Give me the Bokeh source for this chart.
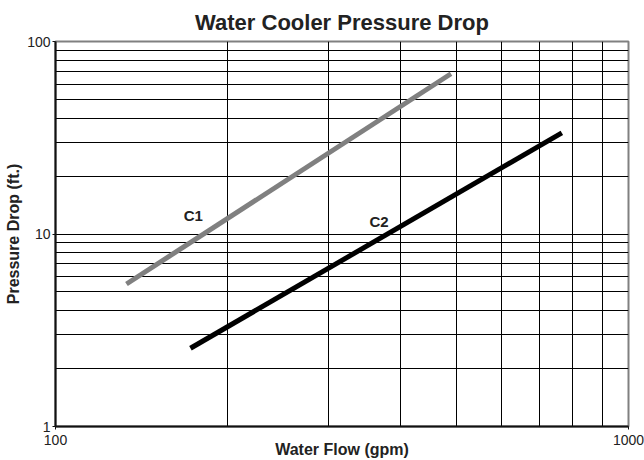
from bokeh.plotting import figure
from bokeh.models import FixedTicker, ColumnDataSource
from bokeh.core.properties import value
from bokeh.embed import file_html
from bokeh.resources import INLINE

# Data (log-log straight lines)
c1_flow = [133, 490]
c1_drop = [5.5, 68]
c2_flow = [172, 765]
c2_drop = [2.55, 33.5]
label_names = ["C1", "C2"]
label_x = [174, 367]
label_y = [12.5, 11.6]
x_major = [100, 1000]
x_minor = [200, 300, 400, 500, 600, 700, 800, 900]
y_major = [1, 10, 100]
y_minor = [2, 3, 4, 5, 6, 7, 8, 9, 20, 30, 40, 50, 60, 70, 80, 90]

FONT = "Liberation Sans"
TXT = "#222222"

p = figure(frame_width=573, frame_height=385, x_axis_type="log", y_axis_type="log",
           x_range=(100, 1000), y_range=(1, 100),
           output_backend="svg", toolbar_location=None,
           min_border_left=55, min_border_right=16, min_border_top=41, min_border_bottom=34)

p.title.text = "Water Cooler Pressure Drop"
p.title.align = "center"
p.title.text_font = FONT
p.title.text_font_size = "22px"
p.title.text_font_style = "bold"
p.title.text_color = TXT
p.title.standoff = 14

p.xaxis.ticker = FixedTicker(ticks=x_major, minor_ticks=x_minor)
p.yaxis.ticker = FixedTicker(ticks=y_major, minor_ticks=y_minor)
p.xaxis.major_label_overrides = {100: "100", 1000: "1000"}
p.yaxis.major_label_overrides = {1: "1", 10: "10", 100: "100"}

for ax in (p.xaxis[0], p.yaxis[0]):
    ax.axis_line_color = "#111111"
    ax.axis_line_width = 2
    ax.major_tick_out = 3
    ax.major_tick_in = 0
    ax.major_tick_line_color = "#111111"
    ax.minor_tick_line_color = None
    ax.major_label_text_font = FONT
    ax.major_label_text_font_size = "14px"
    ax.major_label_text_color = TXT
    ax.axis_label_text_font = FONT
    ax.axis_label_text_font_size = "16px"
    ax.axis_label_text_font_style = "bold"
    ax.axis_label_text_color = TXT

p.xaxis.axis_label = "Water Flow (gpm)"
p.yaxis.axis_label = "Pressure Drop (ft.)"
p.xaxis.major_label_standoff = 4
p.xaxis.axis_label_standoff = -7
p.yaxis.major_label_standoff = 1
p.yaxis.axis_label_standoff = 2

for g in (p.xgrid[0], p.ygrid[0]):
    g.grid_line_color = "#000000"
    g.grid_line_width = 1
    g.minor_grid_line_color = "#000000"
    g.minor_grid_line_width = 1

p.outline_line_color = "#808080"
p.outline_line_width = 2

p.line(c1_flow, c1_drop, line_color="#808080", line_width=5)
p.line(c2_flow, c2_drop, line_color="#000000", line_width=5)

src = ColumnDataSource(dict(x=label_x, y=label_y, t=label_names))
p.text(x="x", y="y", text="t", source=src, text_font=value(FONT),
       text_font_size="15px", text_font_style="bold", text_color=TXT,
       text_align="center", text_baseline="middle")

open("out.html", "w").write(file_html(p, INLINE))
